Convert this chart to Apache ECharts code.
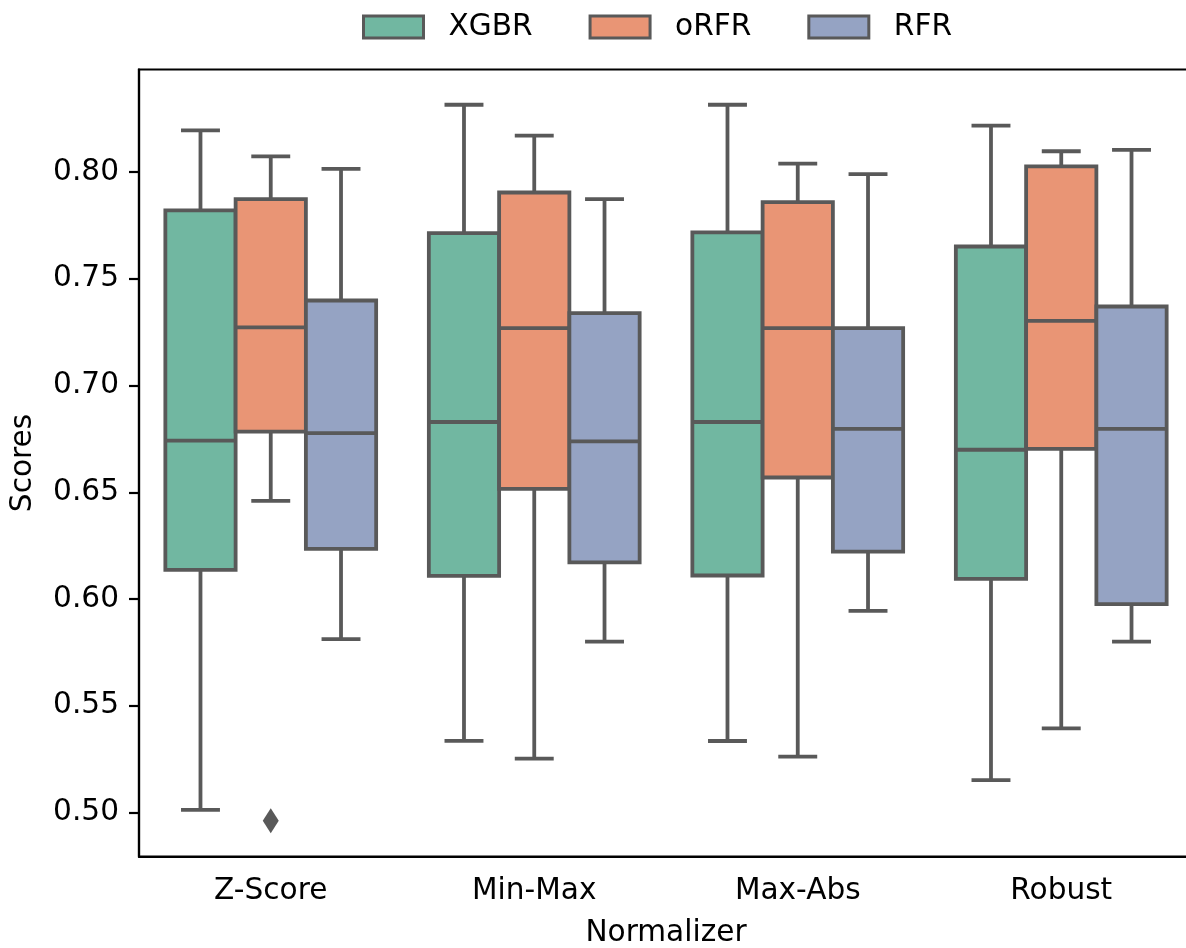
<!DOCTYPE html>
<html>
<head>
<meta charset="utf-8">
<script src="https://cdn.jsdelivr.net/npm/echarts@6/dist/echarts.min.js"></script>
<style>
  html, body { margin: 0; padding: 0; background: #ffffff; }
  #chart { width: 1186px; height: 948px; }
</style>
</head>
<body>
<div id="chart"></div>
<script>
// Normalizers on the x axis
const categories = ['Z-Score', 'Min-Max', 'Max-Abs', 'Robust'];
const seriesNames = ['XGBR', 'oRFR', 'RFR'];

// Box statistics per normalizer: [lower whisker, Q1, median, Q3, upper whisker]
const xgbrStats = [
  [0.5012, 0.6136, 0.6742, 0.7820, 0.8195],
  [0.5336, 0.6108, 0.6829, 0.7714, 0.8315],
  [0.5335, 0.6110, 0.6829, 0.7717, 0.8315],
  [0.5152, 0.6094, 0.6699, 0.7651, 0.8217]
];
const orfrStats = [
  [0.6460, 0.6784, 0.7272, 0.7873, 0.8073],
  [0.5252, 0.6516, 0.7269, 0.7904, 0.8170],
  [0.5262, 0.6569, 0.7269, 0.7859, 0.8039],
  [0.5394, 0.6703, 0.7303, 0.8026, 0.8097]
];
const rfrStats = [
  [0.5812, 0.6235, 0.6777, 0.7398, 0.8015],
  [0.5800, 0.6172, 0.6738, 0.7339, 0.7873],
  [0.5944, 0.6222, 0.6797, 0.7269, 0.7990],
  [0.5800, 0.5976, 0.6797, 0.7370, 0.8104]
];
// Outlying points (oRFR)
const orfrOutliers = [['Z-Score', 0.4962]];

// Y axis tick labels
const yTicks = [0.50, 0.55, 0.60, 0.65, 0.70, 0.75, 0.80];

const FONT = 'DejaVu Sans';
const FS = 29.6;
const EDGE = '#595959';
const LW = 3.8;
const fills = ['#71b7a1', '#e99575', '#95a3c3'];

function makeRender(slot) {
  return function (params, api) {
    const cat = api.value(0);
    const lo = api.coord([cat, api.value(1)]);
    const q1 = api.coord([cat, api.value(2)]);
    const md = api.coord([cat, api.value(3)]);
    const q3 = api.coord([cat, api.value(4)]);
    const hi = api.coord([cat, api.value(5)]);
    const band = api.size([1, 0])[0];
    const w = band * 0.8 / 3;
    const cx = lo[0] + (slot - 1) * w;
    const capHalf = w / 4;
    const lineStyle = { stroke: EDGE, lineWidth: LW, lineCap: 'butt' };
    const capStyle = { stroke: EDGE, lineWidth: LW, lineCap: 'square' };
    return {
      type: 'group',
      children: [
        { type: 'line', shape: { x1: cx, y1: q3[1], x2: cx, y2: hi[1] }, style: lineStyle },
        { type: 'line', shape: { x1: cx, y1: q1[1], x2: cx, y2: lo[1] }, style: lineStyle },
        { type: 'line', shape: { x1: cx - capHalf, y1: hi[1], x2: cx + capHalf, y2: hi[1] }, style: capStyle },
        { type: 'line', shape: { x1: cx - capHalf, y1: lo[1], x2: cx + capHalf, y2: lo[1] }, style: capStyle },
        { type: 'rect', shape: { x: cx - w / 2, y: q3[1], width: w, height: q1[1] - q3[1] },
          style: { fill: fills[slot], stroke: EDGE, lineWidth: LW } },
        { type: 'line', shape: { x1: cx - w / 2, y1: md[1], x2: cx + w / 2, y2: md[1] }, style: lineStyle }
      ]
    };
  };
}

const statsList = [xgbrStats, orfrStats, rfrStats];
const boxSeries = statsList.map(function (stats, s) {
  return {
    name: seriesNames[s],
    type: 'custom',
    renderItem: makeRender(s),
    itemStyle: { color: fills[s], borderColor: EDGE, borderWidth: 3 },
    encode: { x: 0, y: [1, 2, 3, 4, 5] },
    data: stats.map(function (v, i) { return [i].concat(v); }),
    z: 2
  };
});

const chart = echarts.init(document.getElementById('chart'), null, { renderer: 'canvas' });
chart.setOption({
  animation: false,
  backgroundColor: '#ffffff',
  legend: {
    data: seriesNames,
    left: 362,
    top: 12,
    padding: 0,
    icon: 'rect',
    itemWidth: 60,
    itemHeight: 22,
    itemGap: 56,
    itemStyle: { borderColor: EDGE, borderWidth: 3 },
    textStyle: { fontFamily: FONT, fontSize: FS, color: '#000', padding: [0, 0, 0, 20] }
  },
  grid: {
    left: 139, top: 69.5, width: 1054, height: 787,
    outerBoundsMode: 'none',
    containLabel: false,
    show: true, borderColor: '#000', borderWidth: 2.2, backgroundColor: 'transparent'
  },
  xAxis: {
    type: 'category',
    data: categories,
    name: 'Normalizer',
    nameLocation: 'middle',
    nameGap: 62,
    nameTextStyle: { fontFamily: FONT, fontSize: FS, color: '#000' },
    axisLine: { lineStyle: { color: '#000', width: 2.2 } },
    axisTick: { alignWithLabel: true, length: 10, lineStyle: { color: '#000', width: 2.2 } },
    axisLabel: { fontFamily: FONT, fontSize: FS, color: '#000', margin: 20 },
    splitLine: { show: false }
  },
  yAxis: {
    type: 'value',
    min: 0.4794,
    max: 0.848,
    name: 'Scores',
    nameLocation: 'middle',
    nameGap: 101,
    nameTextStyle: { fontFamily: FONT, fontSize: FS, color: '#000' },
    axisLine: { show: true, lineStyle: { color: '#000', width: 2.2 } },
    axisTick: { show: true, length: 10, customValues: yTicks, lineStyle: { color: '#000', width: 2.2 } },
    axisLabel: {
      fontFamily: FONT, fontSize: FS, color: '#000', margin: 20,
      customValues: yTicks,
      formatter: function (v) { return v.toFixed(2); }
    },
    splitLine: { show: false }
  },
  series: boxSeries.concat([{
    name: 'oRFR outliers',
    type: 'scatter',
    data: orfrOutliers,
    symbol: 'diamond',
    symbolSize: [16, 25],
    itemStyle: { color: EDGE, opacity: 1 },
    z: 3
  }])
});
</script>
</body>
</html>
